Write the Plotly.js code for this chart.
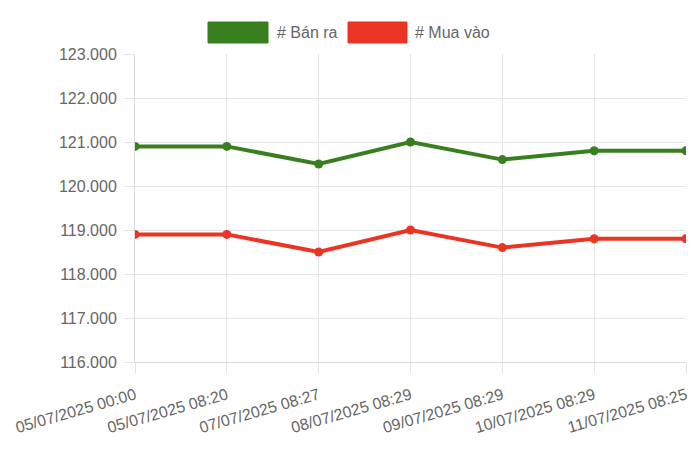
<!DOCTYPE html>
<html>
<head>
<meta charset="utf-8">
<script src="https://cdn.plot.ly/plotly-3.0.1.min.js"></script>
<style>html,body{margin:0;padding:0;background:#fff;}#chart{width:700px;height:450px;}</style>
</head>
<body>
<div id="chart"></div>
<script>
const categories = ["05/07/2025 00:00","05/07/2025 08:20","07/07/2025 08:27","08/07/2025 08:29","09/07/2025 08:29","10/07/2025 08:29","11/07/2025 08:25"];
const seriesNames = ["# Bán ra", "# Mua vào"];
const banRa = [120900, 120900, 120500, 121000, 120600, 120800, 120800];
const muaVao = [118900, 118900, 118500, 119000, 118600, 118800, 118800];
const colors = ["#38801f", "#ea3424"];

const font = {family: "Liberation Sans, Arial, Helvetica, sans-serif", size: 16, color: "#666"};

const traces = [banRa, muaVao].map((vals, i) => ({
  type: "scatter",
  mode: "lines+markers",
  x: categories,
  y: vals,
  name: seriesNames[i],
  line: {color: colors[i], width: 4},
  marker: {color: colors[i], size: 9},
  hoverinfo: "none"
}));

// custom legend (Chart.js style boxes)
const legendBoxes = [
  {x0: 0.1325, x1: 0.2414, tx: 0.254},
  {x0: 0.3866, x1: 0.4936, tx: 0.5045}
];
const shapes = legendBoxes.map((b, i) => ({
  type: "rect", xref: "paper", yref: "paper",
  x0: b.x0, x1: b.x1, y0: 1.0357, y1: 1.1039,
  fillcolor: colors[i], line: {color: colors[i], width: 1}
}));
const annotations = legendBoxes.map((b, i) => ({
  xref: "paper", yref: "paper", x: b.tx, y: 1.0698,
  xanchor: "left", yanchor: "middle", showarrow: false,
  text: seriesNames[i], font: font
}));

const layout = {
  width: 700, height: 450,
  margin: {l: 135, r: 14, t: 54, b: 88},
  paper_bgcolor: "#fff", plot_bgcolor: "#fff",
  font: font,
  separators: ",.",
  showlegend: false,
  shapes: shapes,
  annotations: annotations,
  xaxis: {
    type: "category",
    range: [0, categories.length - 1],
    showgrid: true, gridcolor: "#e5e5e5", gridwidth: 1,
    showline: true, linecolor: "#dcdcdc", linewidth: 1,
    ticks: "outside", ticklen: 10, tickcolor: "#e5e5e5",
    ticklabelstandoff: 7,
    tickangle: -16,
    tickfont: font,
    zeroline: false
  },
  yaxis: {
    range: [116000, 123000],
    dtick: 1000, tick0: 116000,
    tickformat: ",d",
    showgrid: true, gridcolor: "#e5e5e5", gridwidth: 1,
    showline: true, linecolor: "#dcdcdc", linewidth: 1,
    ticks: "outside", ticklen: 10, tickcolor: "#e5e5e5",
    ticklabelstandoff: 4,
    tickfont: font,
    zeroline: false
  }
};

Plotly.newPlot("chart", traces, layout, {displayModeBar: false, staticPlot: true});
</script>
</body>
</html>
